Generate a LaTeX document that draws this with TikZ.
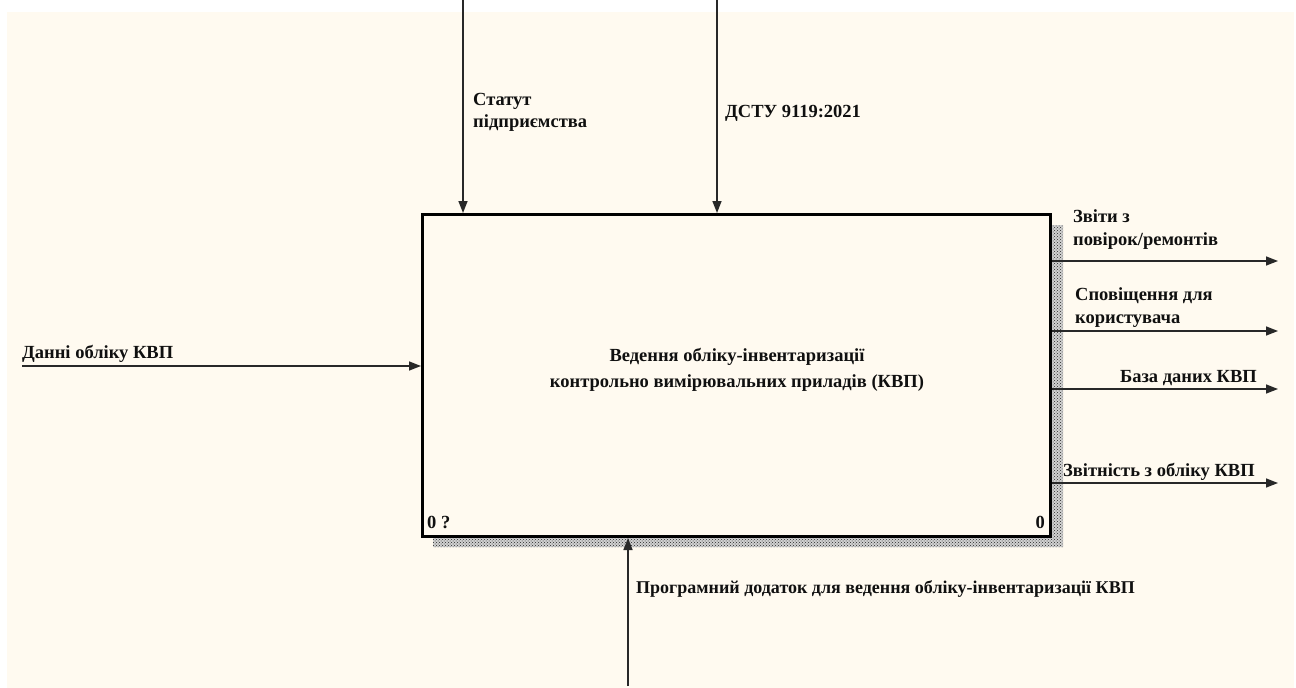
\documentclass[tikz,border=0pt]{standalone}
\usepackage{fontspec}
\setmainfont{Liberation Serif}
\usetikzlibrary{arrows.meta,patterns,calc}
\definecolor{paper}{HTML}{FFFAF0}
\definecolor{ink}{HTML}{101010}
\tikzset{
  lbl/.style={font=\fontsize{18.5}{23}\selectfont\bfseries, text=ink, inner sep=0pt, align=left},
  ctr/.style={font=\fontsize{18.5}{26}\selectfont\bfseries, text=ink, inner sep=0pt, align=center},
  flow/.style={draw=ink!90, line width=1.5pt, -{Triangle[length=12pt,width=9pt]}},
  actbox/.style={draw=black, line width=3pt, fill=paper, minimum width=628pt, minimum height=322pt, inner sep=0pt, anchor=north west},
}
\begin{document}
\begin{tikzpicture}[x=1pt,y=-1pt]
  \useasboundingbox (0,0) rectangle (1296,688);
  \fill[white] (0,0) rectangle (1296,688);
  \fill[paper] (7,12) rectangle (1294,688);

  % activity box with its hatched shadow
  \path[fill=black!18, postaction={pattern=crosshatch dots, pattern color=black!85}]
    (1050,225) -- (1063,225) -- (1063,547) -- (433,547) -- (433,537) -- (1050,537) -- cycle;
  \node[actbox] (act) at (421,213) {};
  \node[ctr] (title) at (737,370) {Ведення обліку-інвентаризації\\контрольно вимірювальних приладів (КВП)};
  \node[lbl, anchor=base west] (n0) at (427,528) {0 ?};
  \node[lbl, anchor=base east] (n1) at (1045,528) {0};

  % controls
  \coordinate (c1) at (463,0);
  \coordinate (c2) at (717,0);
  \draw[flow] (c1) -- (c1 |- act.north);
  \draw[flow] (c2) -- (c2 |- act.north);
  \node[lbl, anchor=base west] (lc1a) at (473,105) {Статут};
  \node[lbl, anchor=base west] (lc1b) at (473,127) {підприємства};
  \node[lbl, anchor=base west] (lc2) at (725,117) {ДСТУ 9119:2021};

  % input
  \coordinate (i1) at (22,366);
  \draw[flow] (i1) -- (i1 -| act.west);
  \node[lbl, anchor=base west] (li1) at (22,358) {Данні обліку КВП};

  % mechanism
  \coordinate (m1) at (628,686);
  \draw[flow] (m1) -- (m1 |- act.south);
  \node[lbl, anchor=base west, font=\fontsize{18}{23}\selectfont\bfseries] (lm1) at (636,593) {Програмний додаток для ведення обліку-інвентаризації КВП};

  % outputs
  \coordinate (o1) at (1278,261);
  \coordinate (o2) at (1278,331);
  \coordinate (o3) at (1278,389);
  \coordinate (o4) at (1278,483);
  \draw[flow] (o1 -| act.east) -- (o1);
  \draw[flow] (o2 -| act.east) -- (o2);
  \draw[flow] (o3 -| act.east) -- (o3);
  \draw[flow] (o4 -| act.east) -- (o4);
  \node[lbl, anchor=base west] (lo1a) at (1073,222) {Звіти з};
  \node[lbl, anchor=base west] (lo1b) at (1073,245) {повірок/ремонтів};
  \node[lbl, anchor=base west] (lo2a) at (1075,300) {Сповіщення для};
  \node[lbl, anchor=base west] (lo2b) at (1075,323) {користувача};
  \node[lbl, anchor=base east] (lo3) at (1257,382) {База даних КВП};
  \node[lbl, anchor=base west] (lo4) at (1063,476) {Звітність з обліку КВП};
\end{tikzpicture}
\end{document}
